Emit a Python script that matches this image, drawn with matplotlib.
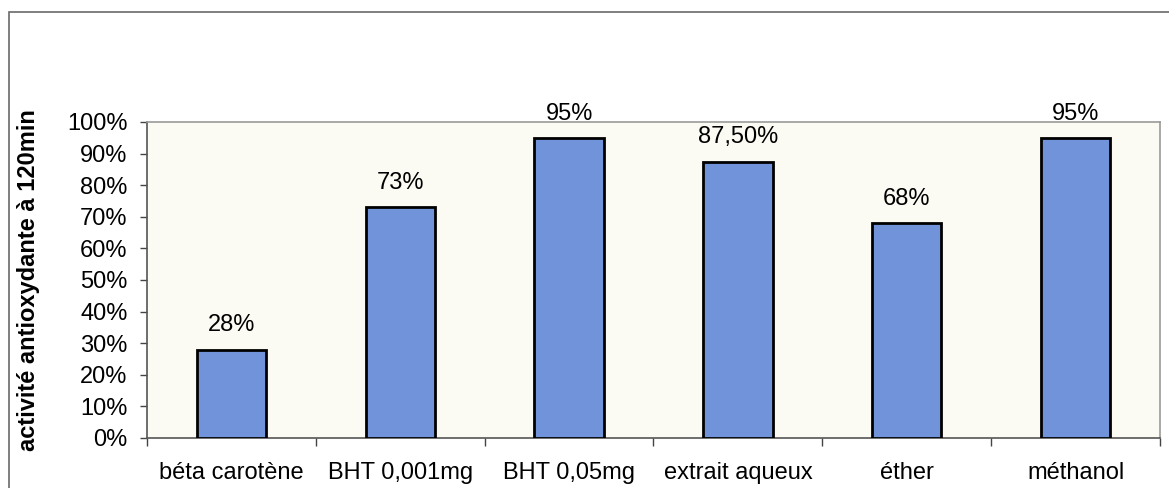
import matplotlib.pyplot as plt
import matplotlib.patches as patches
from matplotlib.ticker import PercentFormatter

plt.rcParams['font.family'] = ['Liberation Sans', 'DejaVu Sans']

# Antioxidant activity after 120 min
categories = ["béta carotène", "BHT 0,001mg", "BHT 0,05mg", "extrait aqueux", "éther", "méthanol"]
activity = [28, 73, 95, 87.5, 68, 95]


def fmt_pct(v):
    if float(v).is_integer():
        return "{:.0f}%".format(v)
    return "{:.2f}%".format(v).replace(".", ",")


fig = plt.figure(figsize=(11.69, 4.88), dpi=100)
fig.patch.set_facecolor("white")

# outer chart frame (runs off the right and bottom edges)
frame = patches.Rectangle((9 / 1169, -0.1), 1.2, 0.975 + 0.1, transform=fig.transFigure,
                          fill=False, edgecolor="#6a6a6a", linewidth=1.2, clip_on=False)
fig.patches.append(frame)

ax = fig.add_axes([147 / 1169, 1 - 438 / 488, (1160 - 147) / 1169, (438 - 122) / 488])
ax.set_facecolor("#fcfbf3")

x = range(len(categories))
bars = ax.bar(x, activity, width=0.41, color="#7093d9", edgecolor="black", linewidth=2, zorder=3)

for xi, v in zip(x, activity):
    ax.annotate(fmt_pct(v), (xi, v), xytext=(0, 13), textcoords="offset points",
                ha="center", va="baseline", fontsize=17, annotation_clip=False)

ax.set_xlim(-0.5, len(categories) - 0.5)
ax.set_ylim(0, 100)
ax.set_yticks(range(0, 101, 10))
ax.yaxis.set_major_formatter(PercentFormatter(decimals=0))
ax.set_xticks(x)
ax.set_xticklabels(categories)
ax.set_xticks([i + 0.5 for i in range(-1, len(categories))], minor=True)

ax.tick_params(axis="y", direction="out", length=5, width=1, pad=9, labelsize=17, color="#444444")
ax.tick_params(axis="x", which="major", length=0, pad=17, labelsize=17)
ax.tick_params(axis="x", which="minor", direction="out", length=6, width=1, color="#444444")

for side in ["top", "right"]:
    ax.spines[side].set_color("#9a9a9a")
    ax.spines[side].set_linewidth(1.2)
for side in ["left", "bottom"]:
    ax.spines[side].set_color("#555555")
    ax.spines[side].set_linewidth(1.2)

ax.set_ylabel("activité antioxydante à 120min", fontsize=17, fontweight="bold")
ax.yaxis.set_label_coords((29 - 147) / 1013, 0.5)
ax.yaxis.label.set_va("center")

fig.savefig("out.png", dpi=100)
